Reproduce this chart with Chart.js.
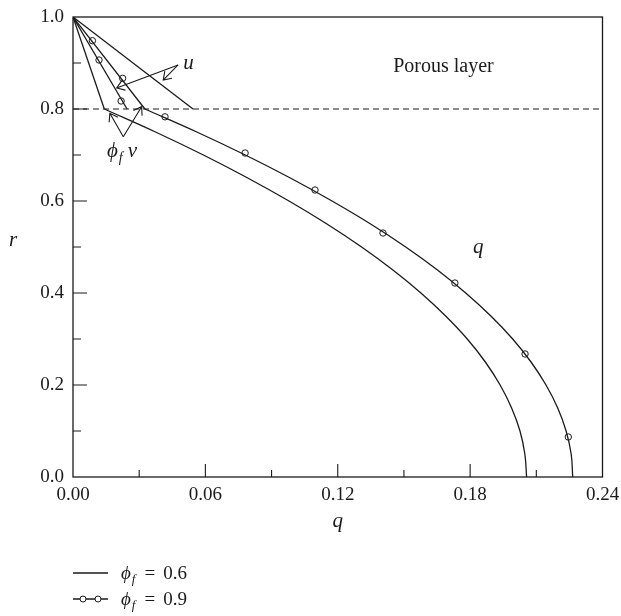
<!DOCTYPE html>
<html>
<head>
<meta charset="utf-8">
<script src="https://cdn.jsdelivr.net/npm/chart.js@4.4.0/dist/chart.umd.min.js"></script>
<style>
html,body{margin:0;padding:0;background:#fff;}
#wrap{position:relative;width:621px;height:616px;overflow:hidden;}
#c{position:absolute;left:0;top:0;}
.leg{position:absolute;left:73px;height:22px;line-height:22px;font-family:"Liberation Serif","DejaVu Serif",serif;font-size:19px;color:#1a1a1a;white-space:nowrap;}
.leg svg{position:absolute;left:0;top:0;}
.leg .txt{position:absolute;left:48px;top:0;}
.leg i{font-style:italic;}
.leg sub{font-size:13px;line-height:0;vertical-align:-4px;margin-left:1px;}
.leg .eq{margin-left:9px;}
.leg .val{margin-left:8px;}
</style>
</head>
<body>
<div id="wrap">
<canvas id="c" width="621" height="616"></canvas>
<div class="leg" style="top:562px;">
  <svg width="40" height="22"><line x1="0" y1="11" x2="35" y2="11" stroke="#1a1a1a" stroke-width="1.3"/></svg>
  <span class="txt"><i>ϕ</i><sub><i>f</i></sub><span class="eq">=</span><span class="val">0.6</span></span>
</div>
<div class="leg" style="top:588px;">
  <svg width="40" height="22"><line x1="0" y1="11" x2="35" y2="11" stroke="#1a1a1a" stroke-width="1.3"/><circle cx="10" cy="11" r="3" fill="#fff" stroke="#1a1a1a" stroke-width="1"/><circle cx="25" cy="11" r="3" fill="#fff" stroke="#1a1a1a" stroke-width="1"/></svg>
  <span class="txt"><i>ϕ</i><sub><i>f</i></sub><span class="eq">=</span><span class="val">0.9</span></span>
</div>
</div>
<script>
// ---------- data ----------
const rGrid   = [0.8, 0.75, 0.7, 0.65, 0.6, 0.55, 0.5, 0.45, 0.4, 0.35, 0.3, 0.25, 0.2, 0.15, 0.1, 0.05, 0];
const qPhi06  = [0.0142, 0.0374, 0.0591, 0.0792, 0.0979, 0.1151, 0.1308, 0.1450, 0.1577, 0.1689, 0.1787, 0.1869, 0.1936, 0.1988, 0.2026, 0.2048, 0.2056];
const qPhi09  = [0.0326, 0.0561, 0.0781, 0.0985, 0.1174, 0.1349, 0.1508, 0.1652, 0.1780, 0.1894, 0.1993, 0.2076, 0.2144, 0.2197, 0.2235, 0.2258, 0.2265];

// porous layer (r from 1.0 down to the interface 0.8)
const porousR   = [1.0, 0.8];
const vPorous06 = [0, 0.0142];
const uPorous06 = [0, 0.0544];
const vPorous09 = [0, 0.0326];
const uPorous09 = [0, 0.0245];

// circle markers of the phi_f = 0.9 curves
const markerQ09 = [0.0088, 0.0118, 0.0225, 0.0218, 0.0417, 0.0780, 0.1097, 0.1405, 0.1731, 0.2049, 0.2245];
const markerR09 = [0.9485, 0.9065, 0.8667, 0.8174, 0.7830, 0.7043, 0.6239, 0.5304, 0.4217, 0.2674, 0.0870];

const interfaceR = 0.8;
const interfaceQ = [0, 0.24];

const xTickValues = [0, 0.06, 0.12, 0.18, 0.24];
const xTickLabels = ['0.00', '0.06', '0.12', '0.18', '0.24'];
const yTickValues = [0, 0.2, 0.4, 0.6, 0.8, 1.0];
const yTickLabels = ['0.0', '0.2', '0.4', '0.6', '0.8', '1.0'];

// ---------- helpers ----------
const zip = (xs, ys) => xs.map((x, i) => ({x: x, y: ys[i]}));
const INK = '#1a1a1a';
const SERIF = '"Liberation Serif","DejaVu Serif",serif';

// annotation anchors (data coordinates)
const ann = {
  uVertex: [0.0476, 0.8957], uTips: [[0.0198, 0.8457], [0.0409, 0.8630]], uText: [0.0500, 0.887],
  vVertex: [0.0228, 0.7398], vTips: [[0.0167, 0.7906], [0.0311, 0.8050]], vText: [0.0154, 0.6950],
  porousText: [0.1451, 0.880], qText: [0.1813, 0.487]
};

const lineDs = (data, extra) => Object.assign({
  data: data, showLine: true, borderColor: INK, borderWidth: 1.3, pointRadius: 0, tension: 0, fill: false
}, extra || {});

const decor = {
  id: 'decor',
  afterDraw(chart) {
    const ctx = chart.ctx, a = chart.chartArea;
    const xs = chart.scales.x, ys = chart.scales.y;
    const P = (q, r) => [xs.getPixelForValue(q), ys.getPixelForValue(r)];
    ctx.save();
    ctx.strokeStyle = INK; ctx.fillStyle = INK;
    // frame
    ctx.lineWidth = 1.3;
    ctx.strokeRect(a.left, a.top, a.right - a.left, a.bottom - a.top);
    // inward ticks
    ctx.lineWidth = 1.1;
    ctx.beginPath();
    for (let i = 1; i < 8; i++) {
      const px = xs.getPixelForValue(i * 0.03);
      const len = (i % 2 === 0) ? 13 : 7;
      ctx.moveTo(px, a.bottom); ctx.lineTo(px, a.bottom - len);
    }
    for (let i = 1; i < 10; i++) {
      const py = ys.getPixelForValue(i * 0.1);
      const len = (i % 2 === 0) ? 14 : 8;
      ctx.moveTo(a.left, py); ctx.lineTo(a.left + len, py);
    }
    ctx.stroke();
    // arrows
    const arrow = (from, to) => {
      const [x0, y0] = P(from[0], from[1]);
      const [x1, y1] = P(to[0], to[1]);
      const ang = Math.atan2(y0 - y1, x0 - x1);
      const L = 9, h = 0.6;
      ctx.beginPath();
      ctx.moveTo(x0, y0); ctx.lineTo(x1, y1);
      ctx.moveTo(x1 + L * Math.cos(ang + h), y1 + L * Math.sin(ang + h));
      ctx.lineTo(x1, y1);
      ctx.lineTo(x1 + L * Math.cos(ang - h), y1 + L * Math.sin(ang - h));
      ctx.stroke();
    };
    ctx.lineWidth = 1.1;
    ann.uTips.forEach(t => arrow(ann.uVertex, t));
    ann.vTips.forEach(t => arrow(ann.vVertex, t));
    // texts
    ctx.textBaseline = 'alphabetic';
    ctx.textAlign = 'left';
    let p = P(ann.uText[0], ann.uText[1]);
    ctx.font = 'italic 21px ' + SERIF;
    ctx.fillText('u', p[0], p[1]);
    p = P(ann.vText[0], ann.vText[1]);
    ctx.font = 'italic 21px ' + SERIF;
    ctx.fillText('ϕ', p[0], p[1]);
    let w = ctx.measureText('ϕ').width;
    ctx.font = 'italic 14px ' + SERIF;
    ctx.fillText('f', p[0] + w + 1, p[1] + 5);
    let w2 = ctx.measureText('f').width;
    ctx.font = 'italic 21px ' + SERIF;
    ctx.fillText('ν', p[0] + w + w2 + 6, p[1]);
    p = P(ann.porousText[0], ann.porousText[1]);
    ctx.font = '20px ' + SERIF;
    ctx.fillText('Porous layer', p[0], p[1]);
    p = P(ann.qText[0], ann.qText[1]);
    ctx.font = 'italic 21px ' + SERIF;
    ctx.fillText('q', p[0], p[1]);
    // axis titles
    ctx.textAlign = 'center';
    ctx.fillText('q', (a.left + a.right) / 2, a.bottom + 50);
    ctx.fillText('r', 13, (a.top + a.bottom) / 2 - 1);
    ctx.restore();
  }
};

new Chart(document.getElementById('c'), {
  type: 'scatter',
  data: {
    datasets: [
      lineDs(interfaceQ.map(q => ({x: q, y: interfaceR})), {borderDash: [6, 4], borderWidth: 1.1}),
      lineDs(zip(vPorous06, porousR)),
      lineDs(zip(uPorous06, porousR)),
      lineDs(zip(vPorous09, porousR)),
      lineDs(zip(uPorous09, porousR)),
      lineDs(zip(qPhi06, rGrid), {tension: 0.4}),
      lineDs(zip(qPhi09, rGrid), {tension: 0.4}),
      {data: zip(markerQ09, markerR09), showLine: false, pointRadius: 3.2, pointBorderWidth: 1,
       pointBackgroundColor: '#fff', pointBorderColor: INK, pointStyle: 'circle'}
    ]
  },
  options: {
    responsive: false,
    animation: false,
    devicePixelRatio: 1,
    layout: {padding: {left: 0, right: 18.5, top: 17, bottom: 79}},
    plugins: {legend: {display: false}, tooltip: {enabled: false}},
    scales: {
      x: {
        type: 'linear', min: 0, max: 0.24,
        grid: {display: false, drawTicks: false},
        border: {display: false},
        afterBuildTicks: s => { s.ticks = xTickValues.map(v => ({value: v})); },
        afterFit: s => { s.height = 60; s.paddingLeft = 0; s.paddingRight = 0; },
        ticks: {
          autoSkip: false, maxRotation: 0, padding: 7, color: INK,
          font: {family: SERIF, size: 19},
          callback: (v, i) => xTickLabels[i]
        }
      },
      y: {
        type: 'linear', min: 0, max: 1,
        grid: {display: false, drawTicks: false},
        border: {display: false},
        afterBuildTicks: s => { s.ticks = yTickValues.map(v => ({value: v})); },
        afterFit: s => { s.width = 73; s.paddingTop = 0; s.paddingBottom = 0; },
        ticks: {
          autoSkip: false, padding: 9, color: INK,
          font: {family: SERIF, size: 19},
          callback: (v, i) => yTickLabels[i]
        }
      }
    }
  },
  plugins: [decor]
});
</script>
</body>
</html>
